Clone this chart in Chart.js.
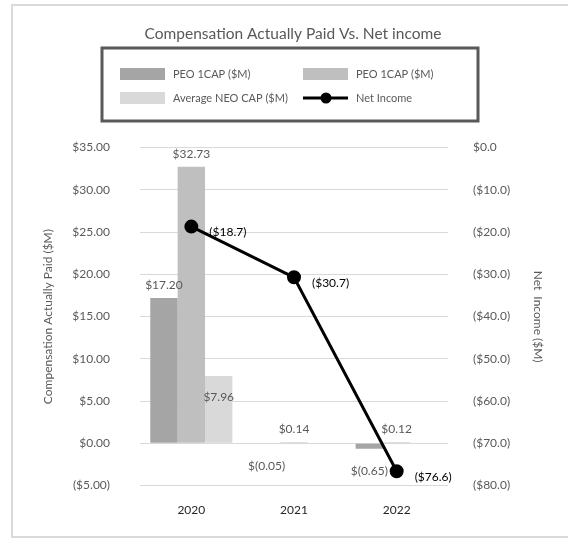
<!DOCTYPE html>
<html>
<head>
<meta charset="utf-8">
<script src="https://cdn.jsdelivr.net/npm/chart.js@4.4.1/dist/chart.umd.min.js"></script>
<style>
  html, body { margin: 0; padding: 0; background: #fff; }
  #wrap { position: relative; width: 568px; height: 539px; }
  #frame { position: absolute; left: 11px; top: 4px; width: 570px; height: 534px;
           border: 2px solid #d9d9d9; border-right: none; box-sizing: border-box; }
  canvas { position: absolute; left: 0; top: 0; }
</style>
</head>
<body>
<div id="wrap">
  <div id="frame"></div>
  <canvas id="capChart" width="568" height="539"></canvas>
</div>
<script>
const years = ['2020', '2021', '2022'];
const peoCapA = [17.20, -0.05, -0.65];
const peoCapB = [32.73, 0.14, 0.12];
const neoCap = [7.96, null, null];
const netIncome = [-18.7, -30.7, -76.6];

const FONT = 'Lato, "Open Sans", sans-serif';

function moneyLabel(v) {
    return v < 0 ? '$(' + Math.abs(v).toFixed(2) + ')' : '$' + v.toFixed(2);
}

// data labels, drawn next to the library's own elements
const labelPlugin = {
    id: 'labels',
    afterDatasetsDraw(chart) {
        const ctx = chart.ctx;
        ctx.save();
        ctx.font = '12px ' + FONT;
        chart.data.datasets.forEach((ds, di) => {
            const meta = chart.getDatasetMeta(di);
            meta.data.forEach((el, i) => {
                const v = ds.data[i];
                if (v === null || v === undefined) return;
                if (ds.type === 'line') {
                    ctx.fillStyle = '#000';
                    ctx.textAlign = 'left';
                    ctx.textBaseline = 'middle';
                    ctx.fillText('($' + Math.abs(v).toFixed(1) + ')', el.x + 18, el.y + 6);
                } else {
                    ctx.fillStyle = '#595959';
                    ctx.textAlign = 'center';
                    ctx.textBaseline = 'middle';
                    let y;
                    if (v < 0) y = el.y + 22;
                    else if (ds.inside) y = el.y + 21;
                    else y = el.y - 13;
                    ctx.fillText(moneyLabel(v), el.x, y);
                }
            });
        });
        ctx.restore();
    }
};

// boxed two-column legend under the title
const legendBox = {
    id: 'legendBox',
    afterDraw(chart) {
        const ctx = chart.ctx;
        const ds = chart.data.datasets;
        ctx.save();
        ctx.strokeStyle = '#595959';
        ctx.lineWidth = 3;
        ctx.strokeRect(102, 48, 376, 73);
        ctx.font = '11px ' + FONT;
        ctx.textBaseline = 'middle';
        ctx.textAlign = 'left';
        const slots = [[120, 74], [303, 74], [120, 98], [303, 98]];
        const order = [1, 2, 3, 0];
        order.forEach((di, k) => {
            const [x, y] = slots[k];
            const d = ds[di];
            if (d.type === 'line') {
                ctx.strokeStyle = '#000';
                ctx.lineWidth = 3;
                ctx.beginPath();
                ctx.moveTo(x, y);
                ctx.lineTo(x + 45, y);
                ctx.stroke();
                ctx.fillStyle = '#000';
                ctx.beginPath();
                ctx.arc(x + 23, y, 5.5, 0, Math.PI * 2);
                ctx.fill();
            } else {
                ctx.fillStyle = d.backgroundColor;
                ctx.fillRect(x, y - 6, 45, 12);
            }
            ctx.fillStyle = '#595959';
            ctx.fillText(d.label, x + 53, y);
        });
        ctx.restore();
    }
};

const ctx = document.getElementById('capChart').getContext('2d');
new Chart(ctx, {
    type: 'bar',
    data: {
        labels: years,
        datasets: [{
            type: 'line',
            label: 'Net Income',
            data: netIncome,
            yAxisID: 'yRight',
            borderColor: '#000',
            backgroundColor: '#000',
            borderWidth: 3,
            pointRadius: 5.5,
            pointBackgroundColor: '#000',
            tension: 0,
            order: 1
        }, {
            label: 'PEO 1CAP ($M)',
            data: peoCapA,
            backgroundColor: '#a5a5a5',
            yAxisID: 'y',
            order: 2
        }, {
            label: 'PEO 1CAP ($M)',
            data: peoCapB,
            backgroundColor: '#bfbfbf',
            yAxisID: 'y',
            order: 2
        }, {
            label: 'Average NEO CAP ($M)',
            data: neoCap,
            backgroundColor: '#d9d9d9',
            yAxisID: 'y',
            inside: true,
            order: 2
        }]
    },
    options: {
        responsive: false,
        animation: false,
        events: [],
        layout: { padding: { left: 30, right: 12, top: 0, bottom: 5 } },
        datasets: {
            bar: { categoryPercentage: 0.8, barPercentage: 1.0 }
        },
        plugins: {
            legend: { display: false },
            tooltip: { enabled: false },
            title: {
                display: true,
                text: 'Compensation Actually Paid Vs. Net income',
                color: '#595959',
                font: { family: FONT, size: 15.5, weight: 'normal' },
                padding: { top: 25, bottom: 104 }
            }
        },
        scales: {
            x: {
                grid: { display: false, drawTicks: false },
                border: { display: false },
                ticks: { color: '#262626', font: { family: FONT, size: 12 }, padding: 17 }
            },
            y: {
                position: 'left',
                min: -5,
                max: 35,
                grid: { color: '#d9d9d9', drawTicks: false },
                border: { display: false },
                afterFit(scale) { scale.width = 110; },
                ticks: {
                    stepSize: 5,
                    padding: 30,
                    color: '#595959',
                    font: { family: FONT, size: 12 },
                    callback: v => v < 0 ? '($' + Math.abs(v).toFixed(2) + ')' : '$' + v.toFixed(2)
                },
                title: {
                    display: true,
                    text: 'Compensation Actually Paid ($M)',
                    color: '#595959',
                    font: { family: FONT, size: 12 },
                    padding: { top: 11, bottom: 0 }
                }
            },
            yRight: {
                position: 'right',
                min: -80,
                max: 0,
                grid: { display: false, drawTicks: false },
                border: { display: false },
                afterFit(scale) { scale.width = 108; },
                ticks: {
                    stepSize: 10,
                    padding: 25,
                    color: '#595959',
                    font: { family: FONT, size: 12 },
                    callback: v => v === 0 ? '$0.0' : '($' + Math.abs(v).toFixed(1) + ')'
                },
                title: {
                    display: true,
                    text: 'Net  Income ($M)',
                    color: '#595959',
                    font: { family: FONT, size: 12 },
                    padding: { top: 11, bottom: 0 }
                }
            }
        }
    },
    plugins: [labelPlugin, legendBox]
});
</script>
</body>
</html>
